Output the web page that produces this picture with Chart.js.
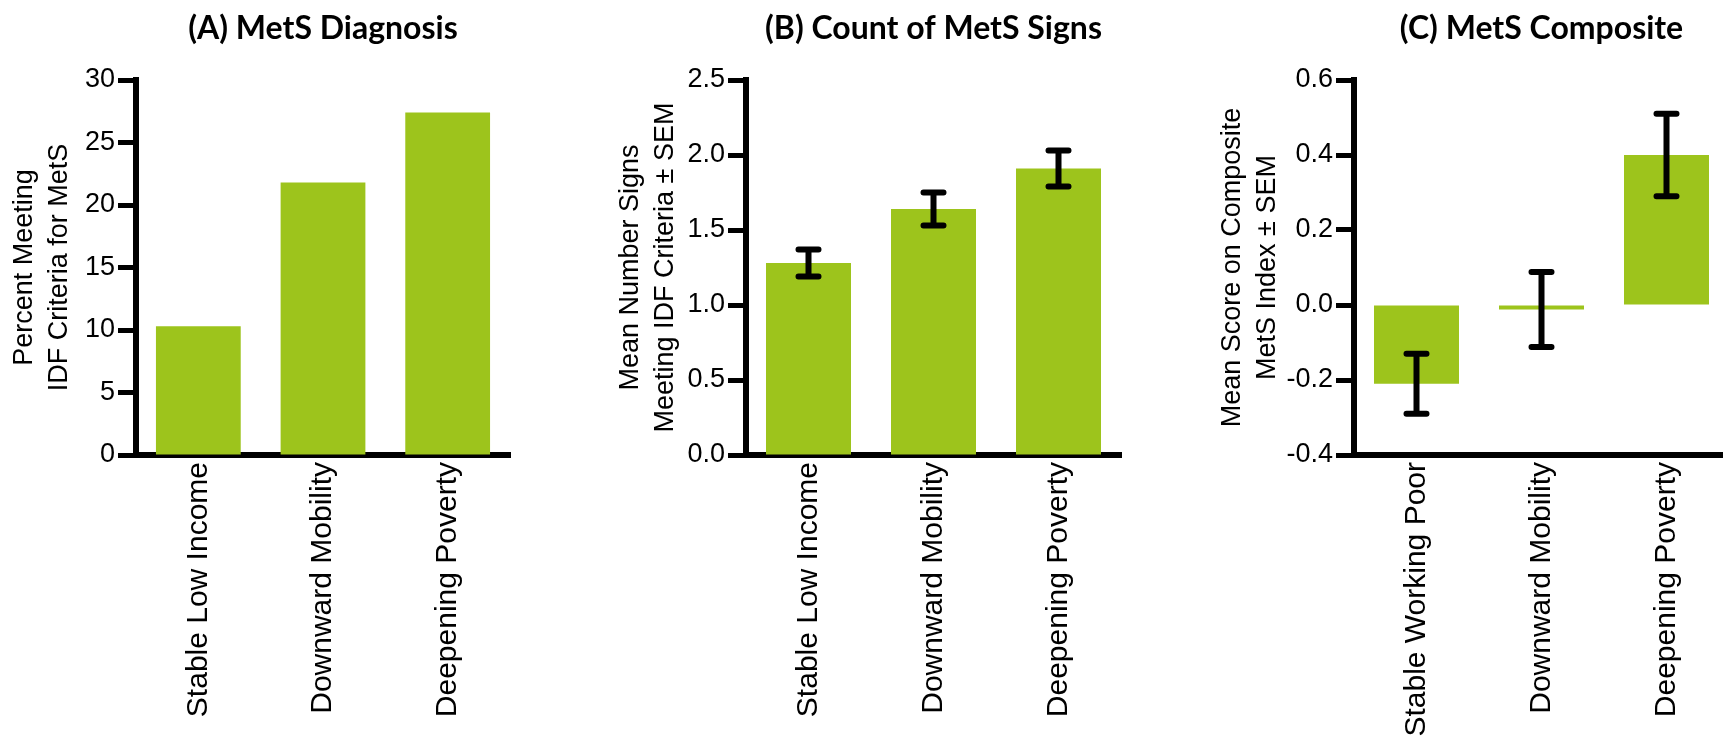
<!DOCTYPE html>
<html>
<head>
<meta charset="utf-8">
<script src="https://cdn.jsdelivr.net/npm/chart.js@4.4.1/dist/chart.umd.min.js"></script>
<style>
  html, body { margin: 0; padding: 0; background: #fff; overflow: hidden; }
  #wrap { position: relative; width: 1723px; height: 741px; overflow: hidden; }
  canvas { position: absolute; top: 0; }
</style>
</head>
<body>
<div id="wrap">
  <canvas id="grafikA" width="580" height="741" style="left:0px"></canvas>
  <canvas id="grafikB" width="600" height="741" style="left:580px"></canvas>
  <canvas id="grafikC" width="600" height="741" style="left:1160px"></canvas>
</div>
<script>
// kategori
const kategoriAB = ["Stable Low Income", "Downward Mobility", "Deepening Poverty"];
const kategoriC = ["Stable Working Poor", "Downward Mobility", "Deepening Poverty"];

// (A) persen memenuhi kriteria IDF
const persenMets = [10.3, 21.8, 27.4];

// (B) rata-rata jumlah tanda MetS +- SEM
const jumlahTanda = [1.28, 1.64, 1.91];
const semTanda = [0.09, 0.11, 0.12];

// (C) skor komposit +- SEM
const skorKomposit = [-0.21, -0.012, 0.40];
const semKomposit = [0.08, 0.10, 0.11];

// label sumbu y
const tickA = [0, 5, 10, 15, 20, 25, 30];
const tickB = [0, 0.5, 1.0, 1.5, 2.0, 2.5];
const tickC = [-0.4, -0.2, 0, 0.2, 0.4, 0.6];

const HIJAU = "#9dc41c";

// garis error (SEM) di atas batang
const errorBars = {
  id: "errorBars",
  afterDatasetsDraw(chart, args, opts) {
    if (!opts.sem) return;
    const ctx = chart.ctx;
    const y = chart.scales.y;
    const nilai = chart.data.datasets[0].data;
    ctx.save();
    ctx.strokeStyle = "#000";
    ctx.lineWidth = 6;
    ctx.lineCap = "round";
    chart.getDatasetMeta(0).data.forEach((bar, i) => {
      const atas = y.getPixelForValue(nilai[i] + opts.sem[i]);
      const bawah = y.getPixelForValue(nilai[i] - opts.sem[i]);
      ctx.beginPath();
      ctx.moveTo(bar.x, atas);
      ctx.lineTo(bar.x, bawah);
      ctx.moveTo(bar.x - 10, atas);
      ctx.lineTo(bar.x + 10, atas);
      ctx.moveTo(bar.x - 10, bawah);
      ctx.lineTo(bar.x + 10, bawah);
      ctx.stroke();
    });
    ctx.restore();
  },
};

// tutup celah kecil di pojok kiri bawah sumbu
const pojokSumbu = {
  id: "pojokSumbu",
  afterDraw(chart) {
    const { ctx, chartArea } = chart;
    ctx.save();
    ctx.fillStyle = "#000";
    ctx.fillRect(chartArea.left - 3, chartArea.bottom - 3, 6, 6);
    ctx.restore();
  },
};

function buatPanel(id, cfg) {
  const ctx = document.getElementById(id).getContext("2d");
  return new Chart(ctx, {
    type: "bar",
    data: {
      labels: cfg.labels,
      datasets: [
        {
          data: cfg.data,
          backgroundColor: HIJAU,
          borderWidth: 0,
          barPercentage: 0.68,
          categoryPercentage: 1,
        },
      ],
    },
    options: {
      responsive: false,
      animation: false,
      devicePixelRatio: 1,
      layout: { padding: { left: cfg.padLeft, right: cfg.padRight, top: 0, bottom: 0 } },
      plugins: {
        legend: { display: false },
        tooltip: { enabled: false },
        title: {
          display: true,
          text: cfg.title,
          fullSize: false,
          color: "#000",
          font: { family: "Lato", weight: "bold", size: 32, lineHeight: 1.2 },
          padding: { top: 9, bottom: 32.6 },
        },
        errorBars: { sem: cfg.sem },
      },
      scales: {
        x: {
          grid: { display: false, drawTicks: false },
          border: { display: true, color: "#000", width: 6 },
          ticks: {
            color: "#000",
            font: { family: "Liberation Sans", size: 30 },
            minRotation: 90,
            maxRotation: 90,
            autoSkip: false,
            padding: 7,
          },
          afterFit: (s) => { s.height = 286; },
        },
        y: {
          min: cfg.ticks[0],
          max: cfg.ticks[cfg.ticks.length - 1],
          afterBuildTicks: (s) => { s.ticks = cfg.ticks.map((v) => ({ value: v })); },
          grid: { drawOnChartArea: false, drawTicks: true, tickLength: 18, tickWidth: 5, tickColor: "#000" },
          border: { color: "#000", width: 6 },
          ticks: {
            color: "#000",
            font: { family: "Liberation Sans", size: 27 },
            padding: 3,
            callback: cfg.fmt,
          },
          title: {
            display: true,
            text: cfg.yTitle,
            color: "#000",
            font: { family: "Liberation Sans", size: 27, lineHeight: 1.3 },
            padding: { top: 0, bottom: 0 },
          },
          afterFit: (s) => { s.width = cfg.yWidth; },
        },
      },
    },
    plugins: [errorBars, pojokSumbu],
  });
}

const satuDesimal = (v) => (Math.abs(v) < 1e-9 ? "0.0" : Number(v).toFixed(1));

buatPanel("grafikA", {
  labels: kategoriAB,
  data: persenMets,
  sem: null,
  ticks: tickA,
  fmt: (v) => String(v),
  title: "(A) MetS Diagnosis",
  yTitle: ["Percent Meeting", "IDF Criteria for MetS"],
  padLeft: 6.5,
  yWidth: 129.5,
  padRight: 70,
});

buatPanel("grafikB", {
  labels: kategoriAB,
  data: jumlahTanda,
  sem: semTanda,
  ticks: tickB,
  fmt: satuDesimal,
  title: "(B) Count of MetS Signs",
  yTitle: ["Mean Number Signs", "Meeting IDF Criteria \u00b1 SEM"],
  padLeft: 32.5,
  yWidth: 133.5,
  padRight: 59,
});

buatPanel("grafikC", {
  labels: kategoriC,
  data: skorKomposit,
  sem: semKomposit,
  ticks: tickC,
  fmt: satuDesimal,
  title: "(C) MetS Composite",
  yTitle: ["Mean Score on Composite", "MetS Index \u00b1 SEM"],
  padLeft: 54.5,
  yWidth: 139.5,
  padRight: 31,
});
</script>
</body>
</html>
